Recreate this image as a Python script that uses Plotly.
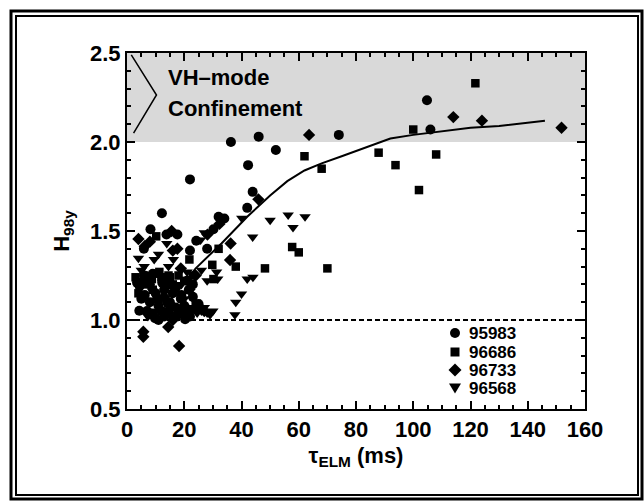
import plotly.graph_objects as go

# ---- data ----
c_x = [36.3, 46, 52, 42.3, 22, 43.9, 42, 12.2, 32, 34, 74, 104.8, 106, 8.2, 13.8, 17.6, 24.2, 22, 5.9, 28,
       4.4, 6.2, 8, 4.3, 9.8, 14.5, 18.2, 20.3, 18.8, 21.6, 23, 16, 12.3, 9, 30.2, 7, 11, 15, 19, 3.5,
       26, 25, 13, 10.5, 17, 22,
       6, 8, 10, 12, 14, 16, 20, 22, 24, 5, 7, 11, 13, 17, 19, 21, 23, 9, 15]
c_y = [2.0, 2.03, 1.955, 1.87, 1.79, 1.72, 1.63, 1.60, 1.58, 1.57, 2.04, 2.235, 2.07, 1.51, 1.48, 1.48, 1.445, 1.39, 1.40, 1.40,
       1.19, 1.14, 1.10, 1.052, 1.01, 1.05, 1.05, 1.004, 1.12, 1.17, 1.13, 1.15, 1.21, 1.26, 1.51, 1.22, 1.08, 1.10, 1.04, 1.21,
       1.06, 1.09, 1.02, 1.12, 1.18, 1.056,
       1.25, 1.20, 1.15, 1.05, 1.10, 1.02, 1.08, 1.02, 1.06, 1.12, 1.05, 1.00, 1.17, 1.07, 1.14, 1.22, 1.20, 1.03, 1.20]

s_x = [121.7, 100, 108, 87.9, 93.8, 102, 62, 68, 57.7, 60, 70, 48.2, 38, 32, 29.8, 30.2, 10.2, 21.8,
       3, 5.9, 8.7, 14.5, 11.3, 6, 16, 24, 9, 13, 4,
       7, 10, 12, 18, 20, 4.5, 15, 23]
s_y = [2.33, 2.07, 1.93, 1.94, 1.87, 1.73, 1.92, 1.85, 1.41, 1.38, 1.29, 1.29, 1.30, 1.40, 1.31, 1.23, 1.47, 1.34,
       1.24, 1.25, 1.23, 1.25, 1.27, 1.20, 1.20, 1.08, 1.17, 1.22, 1.15,
       1.24, 1.26, 1.24, 1.25, 1.22, 1.21, 1.24, 1.25]

d_x = [151.8, 114, 124, 63.6, 45.9, 36.2, 36, 32.3, 28.1, 24, 4, 6.2, 16, 17.6, 15.6, 5.7, 5.7, 18.2,
       14.4, 16, 21, 27, 13, 18.8, 8, 11, 20]
d_y = [2.08, 2.14, 2.12, 2.04, 1.678, 1.43, 1.337, 1.54, 1.48, 1.25, 1.455, 1.415, 1.39, 1.40, 1.50, 0.934, 0.906, 0.854,
       0.96, 1.0, 1.05, 1.05, 1.13, 1.29, 1.44, 1.12, 1.08]

t_x = [40.1, 50, 56.3, 62.2, 58, 43.9, 44, 42, 40, 38, 37.7, 27, 25.7, 13.9, 9.5, 4, 26, 31.3, 31.7, 28,
       30, 24.5, 23, 7.3, 14.5, 16.2, 18.8, 21, 11, 6, 13, 19, 9,
       8, 12, 16, 20, 24, 26, 28, 5, 10, 18, 22, 27, 29]
t_y = [1.571, 1.56, 1.59, 1.58, 1.52, 1.466, 1.24, 1.23, 1.146, 1.10, 1.03, 1.49, 1.45, 1.43, 1.34, 1.347, 1.28, 1.27, 1.23, 1.04,
       1.05, 1.04, 1.07, 1.02, 1.30, 1.34, 1.28, 1.27, 1.37, 1.30, 1.25, 1.20, 1.16,
       1.22, 1.12, 1.08, 1.12, 1.10, 1.05, 1.22, 1.28, 1.05, 1.02, 1.16, 1.07, 1.03]

fit_x = [13, 18, 24, 33, 42, 50, 56, 62, 68, 75, 85, 92, 100, 110, 120, 130, 140, 146]
fit_y = [1.07, 1.17, 1.29, 1.43, 1.58, 1.70, 1.78, 1.84, 1.88, 1.92, 1.98, 2.02, 2.04, 2.06, 2.08, 2.09, 2.11, 2.12]

chev_x = [1.5, 10.3, 2.3]
chev_y = [2.49, 2.264, 2.05]

series_names = ["95983", "96686", "96733", "96568"]
x_ticks = [0, 20, 40, 60, 80, 100, 120, 140, 160]
y_ticks = [0.5, 1.0, 1.5, 2.0, 2.5]

FONT = "Liberation Sans, Arial, sans-serif"

fig = go.Figure()

fig.add_trace(go.Scatter(x=fit_x, y=fit_y, mode="lines", line=dict(color="black", width=2),
                         showlegend=False, hoverinfo="skip"))
fig.add_trace(go.Scatter(x=chev_x, y=chev_y, mode="lines", line=dict(color="black", width=1.5),
                         showlegend=False, hoverinfo="skip"))

mk = dict(color="black", line=dict(width=0))
fig.add_trace(go.Scatter(x=c_x, y=c_y, mode="markers", name=series_names[0],
                         marker=dict(symbol="circle", size=10, **mk)))
fig.add_trace(go.Scatter(x=s_x, y=s_y, mode="markers", name=series_names[1],
                         marker=dict(symbol="square", size=8.5, **mk)))
fig.add_trace(go.Scatter(x=d_x, y=d_y, mode="markers", name=series_names[2],
                         marker=dict(symbol="diamond", size=9.5, **mk)))
fig.add_trace(go.Scatter(x=t_x, y=t_y, mode="markers", name=series_names[3],
                         marker=dict(symbol="triangle-down", size=10, **mk)))

W, H = 644, 503
L, R, T, B = 127, 59, 53, 94
pw, ph = W - L - R, H - T - B

def px(x):
    return (x - L) / pw

def py(y):
    return (H - B - y) / ph

shapes = [
    dict(type="rect", xref="x", yref="y", x0=0, x1=160, y0=2.0, y1=2.5,
         fillcolor="#d9d9d9", line=dict(width=0), layer="below"),
    dict(type="line", xref="x", yref="y", x0=0, x1=160, y0=1.0, y1=1.0,
         line=dict(color="black", width=2, dash="5px,3px"), layer="below"),
    dict(type="rect", xref="paper", yref="paper", x0=px(11), x1=px(642), y0=py(11), y1=py(499),
         line=dict(color="black", width=3)),
    dict(type="rect", xref="paper", yref="paper", x0=px(16), x1=px(638), y0=py(16), y1=py(495),
         line=dict(color="black", width=2)),
]

# manual legend (symbols as shapes, labels as text)
lg_x = 455
lg_rows = [333, 352, 370, 388]
blk = dict(fillcolor="black", line=dict(width=0), xref="paper", yref="paper")
cy = lg_rows[0]
shapes.append(dict(type="circle", x0=px(lg_x - 5), x1=px(lg_x + 5), y0=py(cy + 5), y1=py(cy - 5), **blk))
cy = lg_rows[1]
shapes.append(dict(type="rect", x0=px(lg_x - 4.5), x1=px(lg_x + 4.5), y0=py(cy + 4.5), y1=py(cy - 4.5), **blk))
cy = lg_rows[2]
shapes.append(dict(type="path", path=f"M {px(lg_x)} {py(cy-6.5)} L {px(lg_x+6.5)} {py(cy)} L {px(lg_x)} {py(cy+6.5)} L {px(lg_x-6.5)} {py(cy)} Z", **blk))
cy = lg_rows[3]
shapes.append(dict(type="path", path=f"M {px(lg_x-6)} {py(cy-4.5)} L {px(lg_x+6)} {py(cy-4.5)} L {px(lg_x)} {py(cy+5.5)} Z", **blk))

annotations = [
    dict(x=13.6, y=2.36, xref="x", yref="y", text="VH\u2013mode", showarrow=False, xanchor="left",
         font=dict(family=FONT, size=22, color="black", weight="bold")),
    dict(x=13.6, y=2.19, xref="x", yref="y", text="Confinement", showarrow=False, xanchor="left",
         font=dict(family=FONT, size=22, color="black", weight="bold")),
]
for name, row in zip(series_names, lg_rows):
    annotations.append(dict(x=px(468), y=py(row), xref="paper", yref="paper", text=name, showarrow=False,
                            xanchor="left", yanchor="middle", borderpad=0,
                            font=dict(family=FONT, size=17, color="black", weight="bold")))

axis_common = dict(showline=True, linecolor="black", linewidth=2, mirror="allticks",
                   ticks="inside", ticklen=8, tickwidth=1.5, tickcolor="black",
                   showgrid=False, zeroline=False,
                   tickfont=dict(family=FONT, size=22, color="black", weight="bold"))

fig.update_layout(
    width=W, height=H,
    margin=dict(l=L, r=R, t=T, b=B),
    paper_bgcolor="white", plot_bgcolor="white",
    shapes=shapes, annotations=annotations,
    showlegend=False,
    xaxis=dict(range=[0, 160], tickvals=x_ticks,
               minor=dict(dtick=5, ticks="inside", ticklen=4, tickwidth=1.5, tickcolor="black"),
               title=dict(text="\u03c4<sub>ELM</sub> (ms)", standoff=6,
                          font=dict(family=FONT, size=22, color="black", weight="bold")),
               **axis_common),
    yaxis=dict(range=[0.5, 2.5], tickvals=y_ticks, tickformat=".1f",
               minor=dict(dtick=0.1, ticks="inside", ticklen=4, tickwidth=1.5, tickcolor="black"),
               title=dict(text="H<sub>98y</sub>", standoff=14,
                          font=dict(family=FONT, size=22, color="black", weight="bold")),
               **axis_common),
)

fig.write_html("out.html")
